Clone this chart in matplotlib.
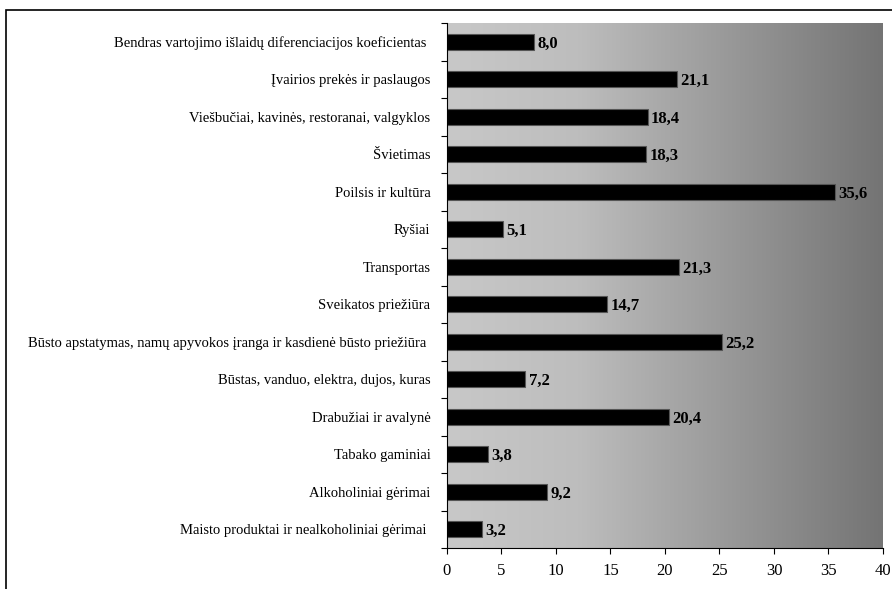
import numpy as np
import matplotlib
matplotlib.use('Agg')
import matplotlib.pyplot as plt
from matplotlib.colors import LinearSegmentedColormap
from matplotlib.patches import Rectangle

plt.rcParams['font.family'] = ['Liberation Serif', 'DejaVu Serif']

# categories from bottom to top
categories = [
    'Maisto produktai ir nealkoholiniai gėrimai ',
    'Alkoholiniai gėrimai',
    'Tabako gaminiai',
    'Drabužiai ir avalynė',
    'Būstas, vanduo, elektra, dujos, kuras',
    'Būsto apstatymas, namų apyvokos įranga ir kasdienė būsto priežiūra ',
    'Sveikatos priežiūra',
    'Transportas',
    'Ryšiai',
    'Poilsis ir kultūra',
    'Švietimas',
    'Viešbučiai, kavinės, restoranai, valgyklos',
    'Įvairios prekės ir paslaugos',
    'Bendras vartojimo išlaidų diferenciacijos koeficientas ',
]
values = [3.2, 9.2, 3.8, 20.4, 7.2, 25.2, 14.7, 21.3, 5.1, 35.6, 18.3, 18.4, 21.1, 8.0]
x_ticks = [0, 5, 10, 15, 20, 25, 30, 35, 40]

fig = plt.figure(figsize=(8.92, 5.89), dpi=100)
ax = fig.add_axes([447 / 892, 41 / 589, 436 / 892, 525 / 589])

n = len(categories)
y = np.arange(n)

# gradient background
cmap = LinearSegmentedColormap.from_list('bg', [(0, '#c8c8c8'), (0.3, '#bdbdbd'), (1, '#747474')])
grad = np.linspace(0, 1, 256).reshape(1, -1)
ax.imshow(grad, aspect='auto', cmap=cmap, extent=[0, 40, -0.5, n - 0.5], zorder=0)

ax.barh(y, values, height=0.43, color='black', edgecolor='#555555', linewidth=0.8, zorder=2)
for yi, v in zip(y, values):
    ax.text(v + 0.3, yi, f'{v:.1f}'.replace('.', ','), va='center_baseline', ha='left',
            fontsize=12, fontweight='bold', zorder=3)

ax.set_xlim(0, 40)
ax.set_ylim(-0.5, n - 0.5)
ax.set_xticks(x_ticks)
ax.set_xticklabels([str(t) for t in x_ticks], fontsize=12)
ax.set_yticks(y)
ax.set_yticklabels(categories, fontsize=10.5)
ax.set_yticks(np.arange(-0.5, n, 1), minor=True)
ax.tick_params(axis='y', which='major', length=0, pad=12)
ax.tick_params(axis='y', which='minor', length=4, width=0.8)
ax.tick_params(axis='x', length=4, width=0.8, pad=7)

for side in ['top', 'right']:
    ax.spines[side].set_visible(False)
ax.spines['left'].set_linewidth(0.8)
ax.spines['bottom'].set_linewidth(0.8)

# outer frame (cut by the image edge on the right and bottom)
fig.patches.append(Rectangle((6 / 892, -0.1), 1.2, 1.1 - 10 / 589,
                             transform=fig.transFigure, fill=False,
                             edgecolor='black', linewidth=1.2, clip_on=False))

fig.savefig('out.png', dpi=100)
